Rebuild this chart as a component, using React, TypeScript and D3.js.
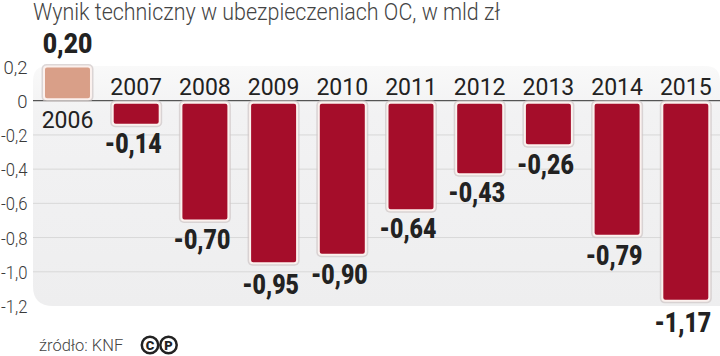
import React from "react";
import * as d3 from "d3";

const years = ["2006","2007","2008","2009","2010","2011","2012","2013","2014","2015"];
const values = [0.2,-0.14,-0.7,-0.95,-0.9,-0.64,-0.43,-0.26,-0.79,-1.17];
const valueLabels = ["0,20","-0,14","-0,70","-0,95","-0,90","-0,64","-0,43","-0,26","-0,79","-1,17"];
const yTicks = [0.2,0,-0.2,-0.4,-0.6,-0.8,-1.0,-1.2];
const title = "Wynik techniczny w ubezpieczeniach OC, w mld zł";
const source = "źródło: KNF";
const labelGap = [13,28,29,31,29,28,28,29,29.5,31];

const W = 720, H = 356;
const y = d3.scaleLinear().domain([0.2,-1.2]).range([66.5,306]);
const x = d3.scaleBand<string>().domain(years).range([44,709.3]).paddingInner(0.316).paddingOuter(0);
const fmt = (t:number)=> t===0 ? "0" : t.toFixed(1).replace(".",",");
const F = "Roboto, sans-serif";
const panel = `M48 66 H705 Q720 66 720 81 V306 H53 Q33 306 33 286 V81 Q33 66 48 66 Z`;

function Cond({x:px,y:py,s,children}:{x:number,y:number,s:number,children:string}){
  return <text x={px} y={py} textAnchor="middle" fontFamily={F} fontWeight={900} fontSize={27.5} fill="#222" transform={`translate(${px} ${py}) scale(${s} 1) translate(${-px} ${-py})`}>{children}</text>;
}

export default function App(){
  const bw = x.bandwidth();
  return (
    <svg width={W} height={H} viewBox={`0 0 ${W} ${H}`} style={{position:"absolute",left:0,top:0,background:"#fff"}}>
      <defs>
        <linearGradient id="bg" x1="0" x2="0" y1="0" y2="1">
          <stop offset="0" stopColor="#f9f9f9"/>
          <stop offset="0.2" stopColor="#f2f2f3"/>
          <stop offset="1" stopColor="#eeeeef"/>
        </linearGradient>
      </defs>
      <path d={panel} fill="url(#bg)"/>
      {yTicks.filter(t=>t<0&&t>-1.2).map(t=>(
        <line key={t} x1={33} x2={720} y1={y(t)} y2={y(t)} stroke="#d8d8d8" strokeWidth={1}/>
      ))}
      {yTicks.map(t=>(
        <text key={t} x={27.5} y={y(t)+7} textAnchor="end" fontFamily={F} fontWeight={300} fontSize={18.5} fill="#3a3a3a"
          {...(t<0 ? {textLength:26.5, lengthAdjust:"spacingAndGlyphs"} : {})}>{fmt(t)}</text>
      ))}
      <line x1={33} x2={720} y1={y(0)} y2={y(0)} stroke="#555" strokeWidth={1.2}/>
      {values.map((v,i)=>{
        const top = y(Math.max(v,0)), bot = y(Math.min(v,0));
        const ry = v>0?top:top+2, rh = bot-top-(v>0?1.5:2);
        return (
          <g key={years[i]}>
            <rect x={x(years[i])!-2.5} y={ry-2.5} width={bw+5} height={rh+5} rx={5} fill="#cfc6c6" opacity={0.7}/>
            <rect x={x(years[i])} y={ry} width={bw} height={rh} rx={3}
              fill={v>0?"#d99f88":"#a50d2a"} stroke="#fbf1ee" strokeWidth={2}/>
          </g>
        );
      })}
      {years.map((yr,i)=>(
        <text key={yr} x={x(yr)!+bw/2} y={i===0?y(0)+27:y(0)-6} textAnchor="middle" fontFamily={F} fontSize={23} fill="#222">{yr}</text>
      ))}
      {values.map((v,i)=>{
        const cx = x(years[i])!+bw/2;
        const py = v>0 ? y(v)-labelGap[i] : y(v)+labelGap[i];
        return <Cond key={years[i]} x={cx-(v<0?3:0)} y={py} s={v>0?0.9:0.84}>{valueLabels[i]}</Cond>;
      })}
      <text x={33} y={20} fontFamily={F} fontWeight={300} fontSize={23} fill="#444" textLength={467} lengthAdjust="spacingAndGlyphs">{title}</text>
      <text x={39} y={351} fontFamily={F} fontWeight={300} fontSize={16.5} fill="#444">{source}</text>
      {["C","P"].map((c,i)=>(
        <g key={c}>
          <circle cx={150+i*18.5} cy={345} r={8.2} fill="none" stroke="#222" strokeWidth={2.5}/>
          <text x={150+i*18.5} y={350} textAnchor="middle" fontFamily={F} fontWeight={900} fontSize={13} fill="#222">{c}</text>
        </g>
      ))}
    </svg>
  );
}
